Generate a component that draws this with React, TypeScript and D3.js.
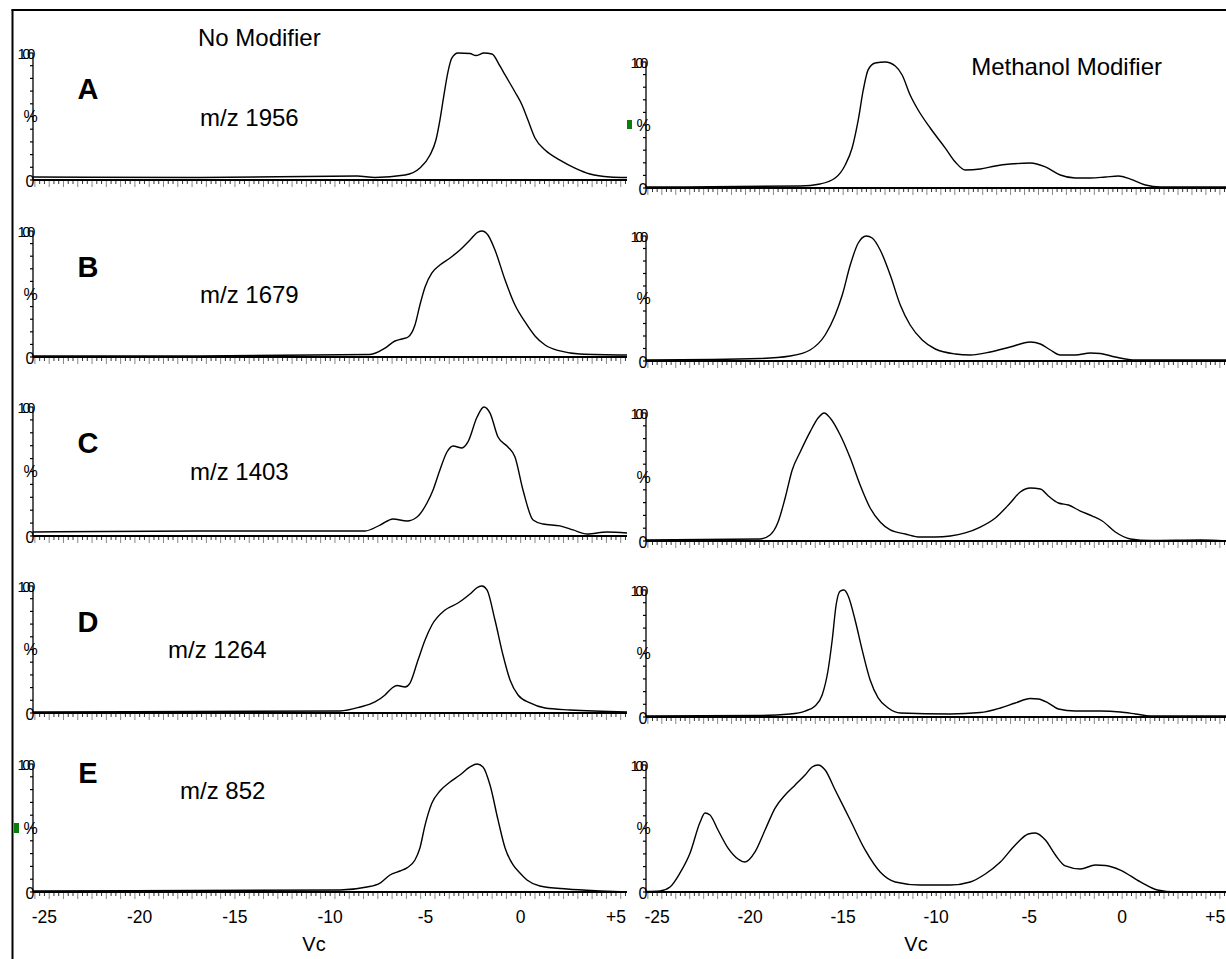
import React from 'react';
import * as d3 from 'd3';

// ---------- data ----------
const VC_DOMAIN: [number, number] = [-25.6, 5.58];
const xTickValues = [-25, -20, -15, -10, -5, 0, 5];
const xTickLabels = ['-25', '-20', '-15', '-10', '-5', '0', '+5'];
const panelLetters = ['A', 'B', 'C', 'D', 'E'];
const mzLabels = ['m/z 1956', 'm/z 1679', 'm/z 1403', 'm/z 1264', 'm/z 852'];
const columnTitles = ['No Modifier', 'Methanol Modifier'];
const axisTitle = 'Vc';

type P = [number, number];

const noModA: P[] = [[-25.6,2.4],[-16.83,2.0],[-8.59,3.1],[-7.65,2.0],[-6.07,3.9],[-5.29,9.4],[-4.76,19.7],[-4.45,31.5],[-4.24,47.2],[-4.03,66.9],[-3.82,85.0],[-3.61,96.1],[-3.29,100],[-2.66,99.6],[-2.35,98.0],[-1.93,100],[-1.51,99.2],[-1.09,89.8],[-0.82,82.7],[-0.30,69.3],[0.07,59.1],[0.38,47.2],[0.75,33.1],[1.28,23.6],[2.06,15.7],[2.85,9.4],[3.64,4.7],[4.69,2.4],[5.58,2.0]];
const noModB: P[] = [[-25.6,0.8],[-16.83,0.8],[-7.91,2.0],[-7.12,7.1],[-6.60,12.7],[-6.23,14.3],[-5.91,15.9],[-5.55,25.4],[-5.29,41.3],[-5.02,55.6],[-4.66,66.7],[-4.24,73.0],[-3.71,78.6],[-3.19,84.9],[-2.66,92.9],[-2.24,99.2],[-2.03,100],[-1.72,96.8],[-1.35,84.9],[-0.82,61.1],[-0.30,41.3],[0.23,27.8],[0.75,16.7],[1.28,9.5],[2.06,4.8],[3.11,2.4],[5.58,1.6]];
const noModC: P[] = [[-25.6,3.1],[-16.83,3.9],[-8.17,3.9],[-7.38,8.5],[-6.70,13.2],[-5.97,11.6],[-5.44,14.7],[-4.92,25.6],[-4.60,35.7],[-4.24,51.2],[-3.87,65.1],[-3.55,69.8],[-3.08,68.2],[-2.77,72.9],[-2.29,92.2],[-1.93,100],[-1.61,95.3],[-1.19,76.7],[-0.67,69.0],[-0.30,61.2],[0.12,35.7],[0.65,12.4],[1.17,9.3],[2.06,7.8],[2.75,4.7],[3.48,1.6],[4.53,3.1],[5.58,2.3]];
const noModD: P[] = [[-25.6,0.8],[-9.48,1.6],[-8.43,4.7],[-7.65,8.7],[-7.12,14.2],[-6.75,19.7],[-6.49,21.7],[-6.07,20.5],[-5.81,23.6],[-5.39,41.7],[-5.02,57.5],[-4.66,69.3],[-3.97,81.1],[-3.29,86.6],[-2.66,93.7],[-2.24,99.2],[-2.03,100],[-1.77,96.9],[-1.35,73.2],[-0.93,45.7],[-0.56,26.0],[-0.14,14.2],[0.49,7.9],[1.28,3.9],[2.59,2.4],[5.58,0.8]];
const noModE: P[] = [[-25.6,0.8],[-9.48,1.6],[-8.07,3.9],[-7.38,7.0],[-6.86,13.3],[-6.33,16.4],[-5.97,18.8],[-5.55,25.0],[-5.29,34.4],[-5.02,52.3],[-4.66,69.5],[-4.24,78.9],[-3.71,85.9],[-3.19,91.4],[-2.66,97.7],[-2.29,100],[-1.98,97.7],[-1.61,83.6],[-1.19,56.3],[-0.82,34.4],[-0.40,21.1],[-0.04,14.8],[0.33,9.4],[1.01,4.7],[2.43,2.3],[4.16,0.8],[5.58,0]];

const methA: P[] = [[-25.6,0.8],[-17.31,1.6],[-16.24,3.2],[-15.43,7.9],[-14.89,18.3],[-14.52,31.7],[-14.19,54.0],[-13.92,77.8],[-13.66,93.7],[-13.28,99.2],[-12.74,100],[-12.20,96.8],[-11.83,89.7],[-11.40,73.8],[-10.97,61.9],[-10.32,47.6],[-9.51,31.7],[-8.97,20.6],[-8.44,14.3],[-7.63,15.1],[-6.82,17.5],[-6.02,19.0],[-4.94,19.8],[-4.13,16.7],[-3.33,10.3],[-2.52,7.9],[-1.71,7.9],[-0.90,8.7],[-0.20,9.5],[0.44,7.1],[1.25,2.4],[2.06,0.8],[5.58,0.8]];
const methB: P[] = [[-25.6,0.8],[-19.47,2.0],[-17.85,4.0],[-16.78,8.8],[-15.97,20.8],[-15.43,36.8],[-15.05,52.8],[-14.62,76.8],[-14.19,94.4],[-13.76,100],[-13.44,98.4],[-13.01,88.8],[-12.47,68.8],[-11.93,44.8],[-11.40,28.8],[-10.75,16.8],[-10.05,9.6],[-8.97,5.6],[-8.17,4.8],[-7.09,7.2],[-6.02,11.2],[-4.94,15.2],[-4.40,13.6],[-3.86,8.8],[-3.33,4.8],[-2.52,4.8],[-1.71,6.4],[-1.17,6.0],[-0.37,3.2],[0.71,0.8],[5.58,0.8]];
const methC: P[] = [[-25.6,0.8],[-19.47,1.6],[-18.93,4.7],[-18.50,14.8],[-18.12,33.6],[-17.74,55.5],[-17.31,69.5],[-16.78,85.2],[-16.35,96.1],[-16.02,100],[-15.70,96.1],[-15.16,82.8],[-14.62,64.8],[-14.09,43.8],[-13.55,25.8],[-13.01,14.8],[-12.47,8.6],[-11.66,5.5],[-10.86,3.1],[-10.05,3.1],[-9.24,3.9],[-8.44,6.3],[-7.63,10.9],[-6.82,18.0],[-6.02,29.7],[-5.48,38.3],[-4.94,41.4],[-4.40,40.6],[-3.97,35.2],[-3.43,29.7],[-2.89,28.1],[-2.25,23.4],[-1.60,19.5],[-1.07,15.6],[-0.37,7.0],[0.44,1.6],[1.52,0.4],[4.21,0.8],[5.58,0]];
const methD: P[] = [[-25.6,0.8],[-19.47,1.2],[-17.85,2.4],[-17.05,4.7],[-16.51,8.7],[-16.13,17.3],[-15.81,37.0],[-15.59,60.6],[-15.38,88.2],[-15.16,99.2],[-14.95,100],[-14.73,95.3],[-14.36,76.4],[-13.98,52.8],[-13.55,29.1],[-13.12,15.0],[-12.58,7.1],[-11.93,3.1],[-9.24,2.4],[-7.63,3.5],[-6.55,7.1],[-5.75,11.0],[-4.94,14.6],[-4.51,14.2],[-3.97,11.0],[-3.43,6.3],[-2.52,4.7],[-1.17,4.7],[-0.10,3.9],[0.71,2.4],[1.52,0.8],[5.58,0.8]];
const methE: P[] = [[-25.6,0.4],[-24.85,0.8],[-24.31,3.9],[-23.77,15.0],[-23.23,30.7],[-22.69,55.1],[-22.43,62.2],[-22.16,60.6],[-21.73,48.8],[-21.19,34.6],[-20.65,26.0],[-20.27,23.6],[-19.74,31.5],[-19.20,48.8],[-18.66,66.1],[-18.12,76.4],[-17.58,84.3],[-17.05,92.1],[-16.67,98.4],[-16.35,100],[-15.97,96.1],[-15.43,80.3],[-14.62,56.7],[-13.82,33.1],[-13.01,15.7],[-12.20,7.9],[-10.86,5.5],[-9.24,5.5],[-8.17,7.9],[-7.36,14.2],[-6.55,23.6],[-5.75,37.0],[-5.05,45.7],[-4.67,46.5],[-4.13,40.9],[-3.59,29.1],[-3.06,20.5],[-2.25,18.1],[-1.44,21.3],[-0.90,20.9],[-0.10,17.3],[0.98,7.9],[1.89,1.6],[2.86,0],[5.58,0]];

const noModSeries = [noModA, noModB, noModC, noModD, noModE];
const methSeries = [methA, methB, methC, methD, methE];

// ---------- layout ----------
const W = 1226;
const H = 959;
const FONT = "'Liberation Sans', Arial, Helvetica, sans-serif";

const columns = [
  {
    x0: 33, x1: 627, series: noModSeries,
    panels: [
      { top: 53, base: 180 }, { top: 231, base: 357 }, { top: 407, base: 536 },
      { top: 586, base: 713 }, { top: 764, base: 892 },
    ],
    title: { x: 198, y: 46, anchor: 'start' },
    vcX: 314,
  },
  {
    x0: 646, x1: 1226, series: methSeries,
    panels: [
      { top: 62, base: 188 }, { top: 236, base: 361 }, { top: 413, base: 541 },
      { top: 590, base: 717 }, { top: 765, base: 892 },
    ],
    title: { x: 1162, y: 75, anchor: 'end' },
    vcX: 916,
  },
];

const letterPos = [
  { x: 88, y: 99 }, { x: 88, y: 277 }, { x: 88, y: 453 }, { x: 88, y: 632 }, { x: 88, y: 783 },
];
const mzPos = [
  { x: 200, y: 126 }, { x: 200, y: 303 }, { x: 190, y: 480 }, { x: 168, y: 658 }, { x: 180, y: 799 },
];
const greenMarks = [
  { x: 627, y: 120, w: 5, h: 9 },
  { x: 14, y: 823, w: 5, h: 10 },
];

const minorTicks = d3.range(-25.5, 5.58, 0.25);

function Panel({ x0, x1, top, base, data, showLabels }: {
  x0: number; x1: number; top: number; base: number; data: P[]; showLabels: boolean;
}) {
  const x = d3.scaleLinear().domain(VC_DOMAIN).range([x0, x1]);
  const y = d3.scaleLinear().domain([0, 100]).range([base, top]);
  const line = d3.line<P>().x(d => x(d[0])).y(d => y(d[1])).curve(d3.curveMonotoneX);
  const yTicks = d3.range(0, 101, 10);
  return (
    <g>
      {minorTicks.map((t, i) => (
        <line key={i} x1={x(t)} x2={x(t)} y1={base + 1} y2={base + (i % 3 === 0 ? 7 : 4)}
          stroke={i % 3 === 0 ? '#888' : '#333'} strokeWidth={1} />
      ))}
      <line x1={x0} x2={x1} y1={base} y2={base} stroke="#000" strokeWidth={2} />
      <line x1={x0} x2={x0} y1={top} y2={base} stroke="#000" strokeWidth={1.3} />
      {yTicks.map(t => (
        <line key={t} x1={x0 - 3} x2={x0} y1={y(t)} y2={y(t)} stroke="#000" strokeWidth={1.2} />
      ))}
      <text x={x0 - 15.5} y={y(100) + 5.5} fontSize={15} fontFamily={FONT} letterSpacing={-3.6}>100</text>
      <text x={x0 - 2.5} y={y(50) + 5.5} fontSize={16} fontFamily={FONT} textAnchor="middle">%</text>
      <text x={x0 - 3} y={y(0) + 7} fontSize={16} fontFamily={FONT} textAnchor="middle">0</text>
      <path d={line(data) || ''} fill="none" stroke="#000" strokeWidth={1.4} strokeLinejoin="round" />
      {showLabels && xTickValues.map((v, i) => (
        <text key={v} x={x(v)} y={923} fontSize={17.5} fontFamily={FONT} textAnchor="middle">{xTickLabels[i]}</text>
      ))}
    </g>
  );
}

export default function App() {
  return (
    <div style={{ position: 'absolute', left: 0, top: 0, width: W, height: H, background: '#fff' }}>
      <svg width={W} height={H} viewBox={`0 0 ${W} ${H}`} style={{ display: 'block' }}>
        <rect x={0} y={0} width={W} height={H} fill="#fff" />
        <line x1={12.5} x2={12.5} y1={9.5} y2={H} stroke="#000" strokeWidth={2} />
        <line x1={11.5} x2={W} y1={10} y2={10} stroke="#000" strokeWidth={2} />
        {columns.map((col, ci) => (
          <g key={ci}>
            {col.panels.map((p, pi) => (
              <Panel key={pi} x0={col.x0} x1={col.x1} top={p.top} base={p.base}
                data={col.series[pi]} showLabels={pi === 4} />
            ))}
            <text x={col.title.x} y={col.title.y} fontSize={24} fontFamily={FONT}
              textAnchor={col.title.anchor as any}>{columnTitles[ci]}</text>
            <text x={col.vcX} y={951} fontSize={20} fontFamily={FONT} textAnchor="middle">{axisTitle}</text>
          </g>
        ))}
        {panelLetters.map((l, i) => (
          <text key={l} x={letterPos[i].x} y={letterPos[i].y} fontSize={29} fontWeight="bold"
            fontFamily={FONT} textAnchor="middle">{l}</text>
        ))}
        {mzLabels.map((m, i) => (
          <text key={m} x={mzPos[i].x} y={mzPos[i].y} fontSize={24} fontFamily={FONT}>{m}</text>
        ))}
        {greenMarks.map((g, i) => (
          <rect key={i} x={g.x} y={g.y} width={g.w} height={g.h} fill="#0b7d0b" />
        ))}
      </svg>
    </div>
  );
}
